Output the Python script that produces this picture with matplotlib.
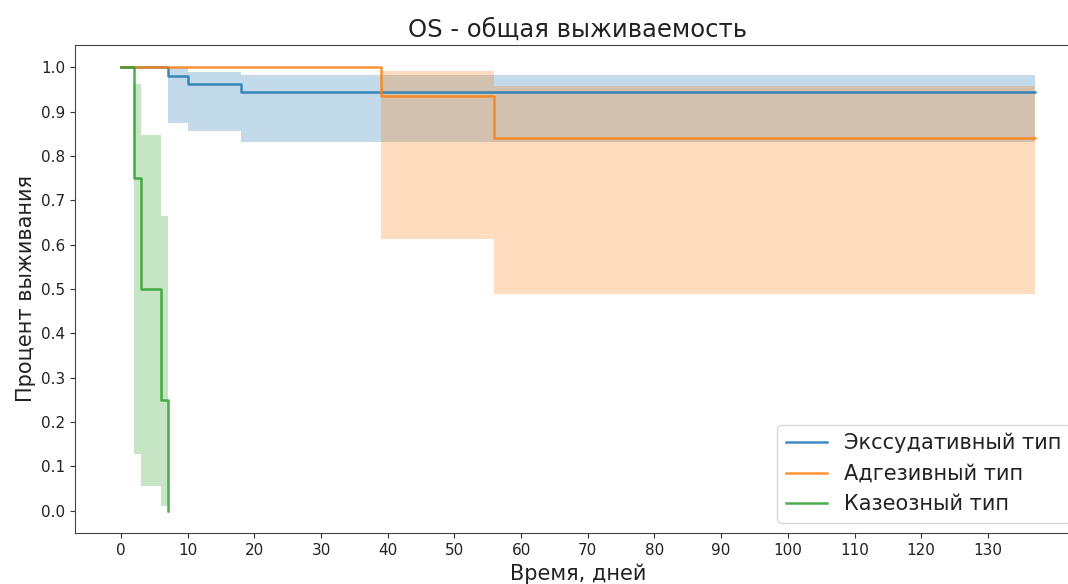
import numpy as np
import matplotlib.pyplot as plt

# Kaplan-Meier step data (time, survival, CI lower/upper)
groups = ['Экссудативный тип', 'Адгезивный тип', 'Казеозный тип']

exs_t = [0, 7, 10, 18, 137]
exs_s = [1.0, 0.980, 0.963, 0.945, 0.945]
exs_lo = [1.0, 0.874, 0.857, 0.832, 0.832]
exs_hi = [1.0, 0.998, 0.990, 0.982, 0.982]

adg_t = [0, 39, 56, 137]
adg_s = [1.0, 0.935, 0.840, 0.840]
adg_lo = [1.0, 0.613, 0.488, 0.488]
adg_hi = [1.0, 0.991, 0.958, 0.958]

kaz_t = [0, 2, 3, 6, 7]
kaz_s = [1.0, 0.75, 0.50, 0.25, 0.0]
kaz_lo = [1.0, 0.128, 0.057, 0.011, 0.011]
kaz_hi = [1.0, 0.962, 0.847, 0.665, 0.665]

data = [(exs_t, exs_s, exs_lo, exs_hi),
        (adg_t, adg_s, adg_lo, adg_hi),
        (kaz_t, kaz_s, kaz_lo, kaz_hi)]
colors = ['tab:blue', 'tab:orange', 'tab:green']

fig = plt.figure(figsize=(10.68, 5.84), dpi=100)
ax = fig.add_axes([0.0705, 0.0873, 0.941, 0.8357])

for (t, s, lo, hi), name, c in zip(data, groups, colors):
    ax.step(t, s, where='post', color=c, lw=1.8, alpha=0.85, label=name)
    ax.fill_between(t, lo, hi, step='post', color=c, alpha=0.27, lw=0)

ax.set_xlim(-6.85, 143.85)
ax.set_ylim(-0.05, 1.05)
ax.set_xticks(np.arange(0, 131, 10))
ax.set_yticks(np.arange(0, 1.01, 0.1))
ax.tick_params(labelsize=11, colors='#333333', labelcolor='#222222')
for sp in ax.spines.values():
    sp.set_color('#444444')
ax.set_title('OS - общая выживаемость', fontsize=17.5, color='#222222')
ax.set_xlabel('Время, дней', fontsize=15, color='#222222')
ax.set_ylabel('Процент выживания', fontsize=15, color='#222222')
leg = ax.legend(loc='lower right', fontsize=15)
for txt in leg.get_texts():
    txt.set_color('#222222')

fig.savefig('out.png', dpi=100)
